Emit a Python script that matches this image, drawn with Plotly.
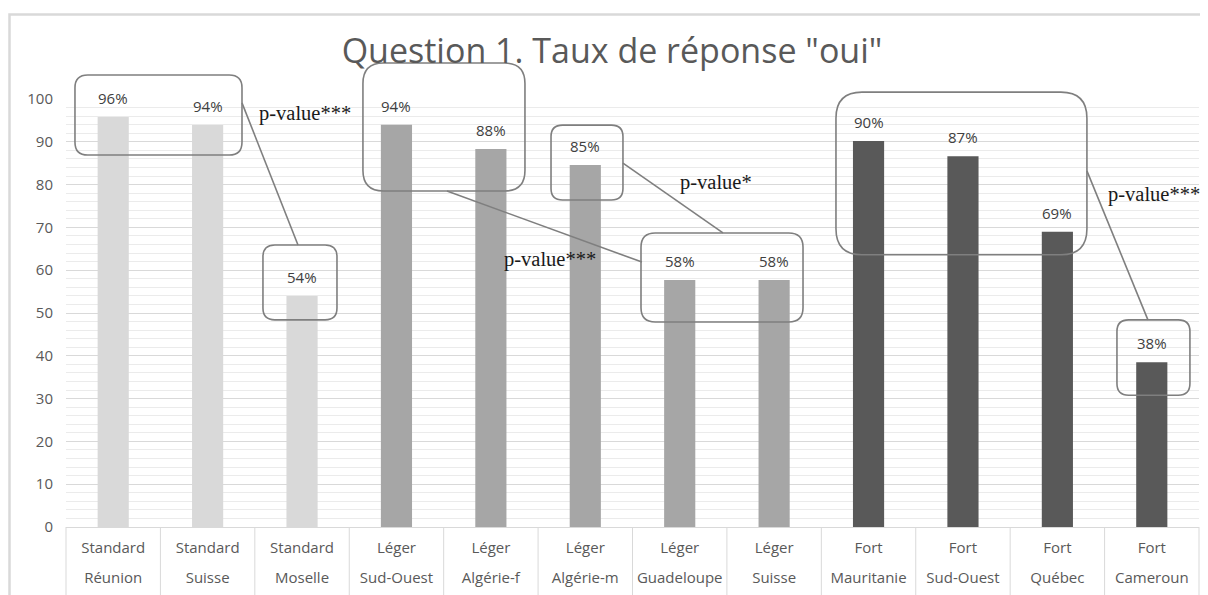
import plotly.graph_objects as go

# ---------------- data ----------------
levels = ["Standard", "Standard", "Standard", "Léger", "Léger", "Léger",
          "Léger", "Léger", "Fort", "Fort", "Fort", "Fort"]
places = ["Réunion", "Suisse", "Moselle", "Sud-Ouest", "Algérie-f", "Algérie-m",
          "Guadeloupe", "Suisse", "Mauritanie", "Sud-Ouest", "Québec", "Cameroun"]
values = [95.8, 93.9, 54.0, 94.0, 88.3, 84.6, 57.7, 57.7, 90.2, 86.6, 69.0, 38.5]
level_colors = {"Standard": "#d9d9d9", "Léger": "#a6a6a6", "Fort": "#595959"}

title_text = 'Question 1. Taux de réponse "oui"'

# annotation boxes: (x0, x1) in category units, (y0, y1) in value units
boxes = [
    (-0.405, 1.364, 86.9, 105.6),
    (1.586, 2.370, 48.4, 65.9),
    (2.645, 4.361, 78.5, 108.4),
    (4.637, 5.399, 76.4, 93.9),
    (5.590, 7.306, 47.9, 68.7),
    (7.655, 10.313, 63.6, 101.6),
    (10.631, 11.404, 30.8, 48.4),
]
connectors = [
    (1.364, 99.1, 1.957, 65.9),
    (3.535, 78.5, 5.600, 61.9),
    (5.399, 85.0, 6.458, 68.7),
    (10.313, 83.2, 10.959, 48.4),
]
# (x, y, text, anchor)
pvalue_labels = [
    (2.031, 96.7, "p-value***", "center"),
    (4.626, 62.4, "p-value***", "center"),
    (6.384, 80.6, "p-value*", "center"),
    (10.52, 77.6, "p-value***", "left"),
]

# ---------------- layout constants ----------------
# the page body adds an 8 px offset; figure is sized so that it fills the window
OFF = 8
W, H = 1200, 587
PL, PR, PT, PB = 66, 1199, 99, 527            # plot area in window pixels
ML, MT = PL - OFF, PT - OFF
MR, MB = (OFF + W) - PR, (OFF + H) - PB
PW, PH = PR - PL, PB - PT
N = len(values)
YMAX = 100

keys = [f"{l} {p}" for l, p in zip(levels, places)]


def px_(c):
    return (c + 0.5) / N


def py_(v):
    return v / YMAX


def rounded_box(x0, x1, y0, y1):
    X0, X1, Y0, Y1 = px_(x0), px_(x1), py_(y0), py_(y1)
    wpx = (X1 - X0) * PW
    hpx = (Y1 - Y0) * PH
    r = 0.16 * min(wpx, hpx)
    rx, ry = r / PW, r / PH
    return (f"M {X0+rx},{Y0} L {X1-rx},{Y0} Q {X1},{Y0} {X1},{Y0+ry} "
            f"L {X1},{Y1-ry} Q {X1},{Y1} {X1-rx},{Y1} L {X0+rx},{Y1} "
            f"Q {X0},{Y1} {X0},{Y1-ry} L {X0},{Y0+ry} Q {X0},{Y0} {X0+rx},{Y0} Z")


fig = go.Figure()
fig.add_trace(go.Bar(
    x=keys, y=values,
    marker=dict(color=[level_colors[l] for l in levels], line=dict(width=0)),
    hoverinfo="skip", showlegend=False,
))
# invisible helper trace so the second (place-name) axis is drawn
fig.add_trace(go.Scatter(
    x=keys, y=values, xaxis="x2", mode="markers",
    marker=dict(opacity=0), hoverinfo="skip", showlegend=False,
))

shapes = []
# outer frame (window x 8.5, y 14.5)
shapes.append(dict(type="rect", xref="paper", yref="paper",
                   x0=(9.5 - PL) / PW, x1=(OFF + W + 20 - PL) / PW,
                   y0=-(OFF + H + 20 - PB) / PH, y1=(PB - 14.5) / PH,
                   line=dict(color="#d9d9d9", width=2.5), layer="below"))
# category separators below the axis
for i in range(N + 1):
    shapes.append(dict(type="line", xref="paper", yref="paper",
                       x0=i / N, x1=i / N, y0=0, y1=-0.25,
                       line=dict(color="#d9d9d9", width=1)))
for b in boxes:
    shapes.append(dict(type="path", xref="paper", yref="paper", path=rounded_box(*b),
                       line=dict(color="#7f7f7f", width=1.6), fillcolor="rgba(0,0,0,0)"))
for (x0, y0, x1, y1) in connectors:
    shapes.append(dict(type="line", xref="paper", yref="paper",
                       x0=px_(x0), y0=py_(y0), x1=px_(x1), y1=py_(y1),
                       line=dict(color="#7f7f7f", width=1.6)))

annotations = []
for k, v in zip(keys, values):
    annotations.append(dict(x=k, y=v, xref="x", yref="y", text=f"{round(v)}%",
                            showarrow=False, yanchor="bottom", yshift=7,
                            font=dict(family="Open Sans", size=15, color="#404040")))
for (x, y, t, anc) in pvalue_labels:
    annotations.append(dict(x=px_(x), y=py_(y), xref="paper", yref="paper", text=t,
                            showarrow=False, xanchor=anc, yanchor="middle",
                            font=dict(family="Liberation Serif", size=20.5, color="#1a1a1a")))

xrange = [-0.5, N - 0.5]

fig.update_layout(
    width=W, height=H,
    margin=dict(l=ML, r=MR, t=MT, b=MB, pad=0, autoexpand=False),
    paper_bgcolor="white", plot_bgcolor="white",
    title=dict(text=title_text, x=(612 - OFF) / W, xanchor="center",
               y=1 - (51 - OFF) / H, yanchor="middle",
               font=dict(family="Open Sans", size=34, color="#595959")),
    bargap=0.67,
    xaxis=dict(type="category", categoryorder="array", categoryarray=keys, range=xrange,
               tickmode="array", tickvals=keys, ticktext=levels, automargin=False,
               showgrid=False, showline=True, linecolor="#d9d9d9", linewidth=1,
               ticks="", ticklabelstandoff=7,
               tickfont=dict(family="Open Sans", size=15, color="#595959")),
    xaxis2=dict(type="category", overlaying="x", matches="x", anchor="y", side="bottom",
                categoryorder="array", categoryarray=keys, range=xrange, automargin=False,
                tickmode="array", tickvals=keys, ticktext=places,
                showgrid=False, showline=False, ticks="", ticklabelstandoff=40,
                tickfont=dict(family="Open Sans", size=15, color="#595959")),
    yaxis=dict(range=[0, YMAX], dtick=10, tick0=0, showline=False, zeroline=False,
               automargin=False,
               gridcolor="#d9d9d9", gridwidth=1, ticks="", ticklabelstandoff=12,
               tickfont=dict(family="Open Sans", size=15, color="#595959"),
               minor=dict(dtick=2, showgrid=True, gridcolor="#ebebeb", gridwidth=1)),
    shapes=shapes, annotations=annotations,
)

fig.write_html("out.html")
